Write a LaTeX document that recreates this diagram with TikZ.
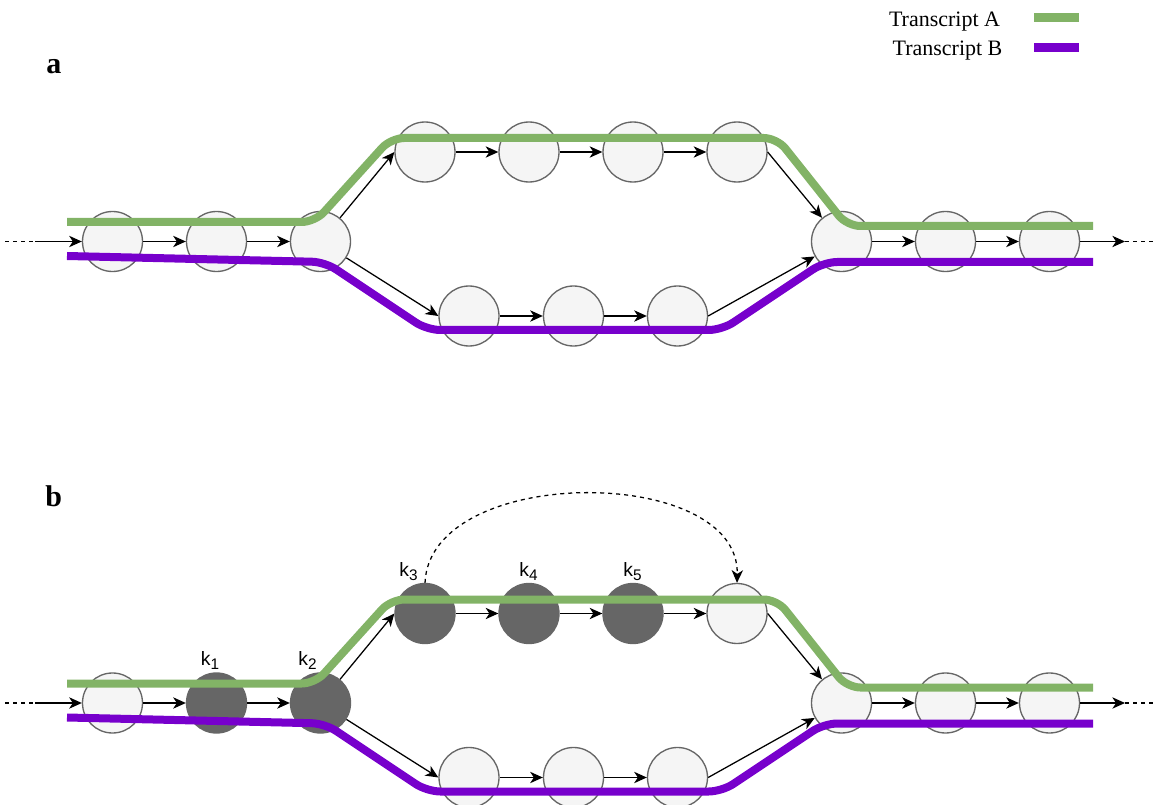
\documentclass[tikz,border=0pt]{standalone}
\usepackage{fontspec}
\setmainfont{Liberation Serif}
\setsansfont{Liberation Sans}
\usetikzlibrary{arrows.meta}
\definecolor{greenA}{HTML}{82B366}
\definecolor{purpB}{HTML}{7700CC}
\definecolor{nodeFill}{HTML}{F5F5F5}
\definecolor{nodeLine}{HTML}{666666}
\newcommand{\klab}[1]{k\raisebox{-3.4pt}{\fontsize{11.5}{13}\selectfont #1}}
\begin{document}
\begin{tikzpicture}[x=0.75pt,y=-0.75pt,
  kmer/.style={circle, minimum size=45pt, inner sep=0pt, draw=nodeLine, fill=nodeFill, line width=1pt},
  hit/.style={kmer, fill=nodeLine},
  tip/.style={-{Stealth[length=9.5pt,width=8.5pt,inset=2.8pt]}},
  edge/.style={tip, line width=0.95pt},
  dashline/.style={line width=0.95pt, dash pattern=on 3pt off 3pt},
  trA/.style={draw=greenA, line width=6pt, rounded corners=10pt},
  trB/.style={draw=purpB, line width=6pt, rounded corners=10pt},
  klabel/.style={font=\sffamily\fontsize{14.5}{17}\selectfont, anchor=base, inner sep=0pt},
  panel/.style={font=\bfseries\fontsize{22.5}{26}\selectfont, anchor=base west, inner sep=0pt},
  legend/.style={font=\fontsize{16.5}{20}\selectfont, anchor=base, inner sep=0pt},
]
\clip (0,0) rectangle (1156,805);

% ---------------- legend ----------------
\node[legend] (legA) at (944.5,27) {Transcript A};
\node[legend] (legB) at (947.5,56) {Transcript B};
\draw[draw=greenA, line width=6.75pt] (1034,17.5) -- (1079,17.5);
\draw[draw=purpB, line width=6.75pt] (1034,47.5) -- (1079,47.5);

% ---------------- panel a ----------------
\node[panel] (labA) at (46,74) {a};

\node[kmer] (a1) at (112.5,241.5) {};
\node[kmer] (a2) at (216.5,241.5) {};
\node[kmer] (a3) at (320.5,241.5) {};
\node[kmer] (at1) at (425,152) {};
\node[kmer] (at2) at (529,152) {};
\node[kmer] (at3) at (633,152) {};
\node[kmer] (at4) at (737,152) {};
\node[kmer] (ab1) at (469,316) {};
\node[kmer] (ab2) at (573.5,316) {};
\node[kmer] (ab3) at (677.5,316) {};
\node[kmer] (ar1) at (841.5,241.5) {};
\node[kmer] (ar2) at (945.5,241.5) {};
\node[kmer] (ar3) at (1049.5,241.5) {};

\coordinate (ainS) at (5,241.5);
\coordinate (ainE) at (35,241.5);
\coordinate (aoutS) at (1125,241.5);
\coordinate (aoutE) at (1156,241.5);

\draw[dashline] (ainS) -- (ainE);
\draw[edge] (ainE) -- (a1);
\draw[edge] (a1) -- (a2);
\draw[edge] (a2) -- (a3);
\draw[edge] (a3) -- (at1.west);
\draw[edge] (a3) -- (ab1.west);
\draw[edge] (at1) -- (at2);
\draw[edge] (at2) -- (at3);
\draw[edge] (at3) -- (at4);
\draw[edge] (ab1) -- (ab2);
\draw[edge] (ab2) -- (ab3);
\draw[edge] (at4.east) -- (ar1);
\draw[edge] (ab3.east) -- (ar1);
\draw[edge] (ar1) -- (ar2);
\draw[edge] (ar2) -- (ar3);
\draw[edge] (ar3) -- (aoutS);
\draw[dashline] (aoutS) -- (aoutE);

\draw[trA] (67,222) -- (315,222) -- (391,138) -- (777,138) -- (847,226) -- (1093,226);
\draw[trB] (67,256) -- (325,262) -- (427,330) -- (722,330) -- (824,262) -- (1093,262);

% ---------------- panel b ----------------
\node[panel] (labB) at (45,506) {b};

\node[kmer] (b1) at (112.5,703) {};
\node[hit]  (b2) at (216.5,703) {};
\node[hit]  (b3) at (320.5,703) {};
\node[hit]  (bt1) at (425,613.5) {};
\node[hit]  (bt2) at (529,613.5) {};
\node[hit]  (bt3) at (633,613.5) {};
\node[kmer] (bt4) at (737,613.5) {};
\node[kmer] (bb1) at (469,777.5) {};
\node[kmer] (bb2) at (573.5,777.5) {};
\node[kmer] (bb3) at (677.5,777.5) {};
\node[kmer] (br1) at (841.5,703) {};
\node[kmer] (br2) at (945.5,703) {};
\node[kmer] (br3) at (1049.5,703) {};

\coordinate (binS) at (5,703);
\coordinate (binE) at (35,703);
\coordinate (boutS) at (1125,703);
\coordinate (boutE) at (1156,703);

\draw[dashline] (binS) -- (binE);
\draw[edge] (binE) -- (b1);
\draw[edge] (b1) -- (b2);
\draw[edge] (b2) -- (b3);
\draw[edge] (b3) -- (bt1.west);
\draw[edge] (b3) -- (bb1.west);
\draw[edge] (bt1) -- (bt2);
\draw[edge] (bt2) -- (bt3);
\draw[edge] (bt3) -- (bt4);
\draw[edge] (bb1) -- (bb2);
\draw[edge] (bb2) -- (bb3);
\draw[edge] (bt4.east) -- (br1);
\draw[edge] (bb3.east) -- (br1);
\draw[edge] (br1) -- (br2);
\draw[edge] (br2) -- (br3);
\draw[edge] (br3) -- (boutS);
\draw[dashline] (boutS) -- (boutE);

\draw[trA] (67,683.5) -- (315,683.5) -- (391,599.5) -- (777,599.5) -- (847,687.5) -- (1093,687.5);
\draw[trB] (67,717.5) -- (325,723.5) -- (427,791.5) -- (722,791.5) -- (824,723.5) -- (1093,723.5);

\draw[dashline, tip]
  (bt1.north) .. controls (430,464) and (740,464) .. (bt4.north);

\node[klabel] (k1) at (210,665) {\klab{1}};
\node[klabel] (k2) at (307.5,665) {\klab{2}};
\node[klabel] (k3) at (408.5,576) {\klab{3}};
\node[klabel] (k4) at (528.5,576) {\klab{4}};
\node[klabel] (k5) at (632.5,576) {\klab{5}};
\end{tikzpicture}
\end{document}
